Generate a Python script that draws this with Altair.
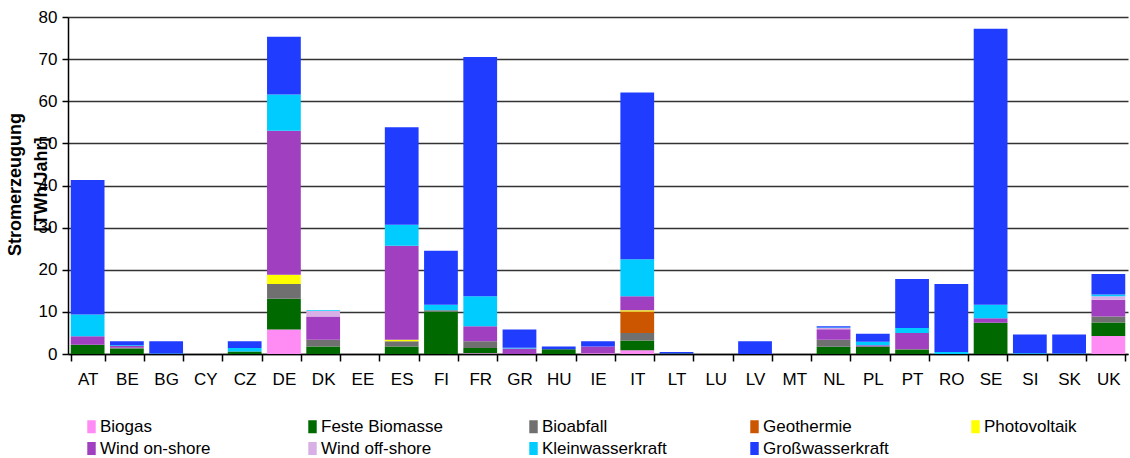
import altair as alt
import pandas as pd

countries = ["AT", "BE", "BG", "CY", "CZ", "DE", "DK", "EE", "ES", "FI", "FR", "GR", "HU", "IE",
             "IT", "LT", "LU", "LV", "MT", "NL", "PL", "PT", "RO", "SE", "SI", "SK", "UK"]

series = ["Biogas", "Feste Biomasse", "Bioabfall", "Geothermie", "Photovoltaik",
          "Wind on-shore", "Wind off-shore", "Kleinwasserkraft", "Großwasserkraft"]

#             AT   BE   BG   CY   CZ   DE    DK   EE   ES    FI    FR   GR   HU   IE   IT   LT   LU   LV   MT   NL   PL   PT   RO   SE   SI   SK   UK
biogas =     [0.0, 0.0, 0.0, 0.0, 0.0, 5.8,  0.0, 0.0, 0.0,  0.0,  0.2, 0.0, 0.0, 0.2, 0.9, 0.0, 0.0, 0.0, 0.0, 0.0, 0.0, 0.0, 0.0, 0.0, 0.0, 0.0, 4.3]
feste =      [2.2, 1.3, 0.0, 0.0, 0.6, 7.3,  1.8, 0.0, 1.8, 10.1,  1.2, 0.0, 1.1, 0.0, 2.3, 0.1, 0.0, 0.0, 0.0, 1.7, 1.8, 1.0, 0.0, 7.4, 0.0, 0.0, 3.2]
bioabfall =  [0.0, 0.2, 0.0, 0.0, 0.0, 3.5,  1.6, 0.0, 1.2,  0.3,  1.6, 0.0, 0.0, 0.0, 1.8, 0.0, 0.0, 0.0, 0.0, 1.7, 0.0, 0.2, 0.0, 0.0, 0.0, 0.0, 1.4]
geothermie = [0.0, 0.0, 0.0, 0.0, 0.0, 0.0,  0.0, 0.0, 0.0,  0.0,  0.0, 0.0, 0.0, 0.0, 5.1, 0.0, 0.0, 0.0, 0.0, 0.0, 0.0, 0.0, 0.0, 0.0, 0.0, 0.0, 0.0]
pv =         [0.0, 0.0, 0.0, 0.0, 0.0, 2.2,  0.0, 0.0, 0.4,  0.0,  0.0, 0.0, 0.0, 0.0, 0.3, 0.0, 0.0, 0.0, 0.0, 0.0, 0.0, 0.0, 0.0, 0.0, 0.0, 0.0, 0.0]
wind_on =    [2.0, 0.4, 0.0, 0.0, 0.0, 34.2, 5.5, 0.0, 22.3, 0.0,  3.6, 1.3, 0.0, 1.6, 3.3, 0.0, 0.0, 0.0, 0.0, 2.5, 0.3, 3.8, 0.0, 1.1, 0.0, 0.0, 4.0]
wind_off =   [0.0, 0.0, 0.0, 0.0, 0.0, 0.0,  1.3, 0.0, 0.0,  0.0,  0.0, 0.0, 0.0, 0.0, 0.0, 0.0, 0.0, 0.0, 0.0, 0.3, 0.0, 0.0, 0.0, 0.0, 0.0, 0.0, 0.8]
klein =      [5.2, 0.2, 0.1, 0.0, 0.8, 8.6,  0.2, 0.0, 5.0,  1.3,  7.1, 0.2, 0.0, 0.0, 8.8, 0.0, 0.0, 0.0, 0.0, 0.1, 0.8, 1.2, 0.5, 3.2, 0.2, 0.1, 0.4]
gross =      [31.9, 0.9, 2.9, 0.0, 1.6, 13.7, 0.0, 0.0, 23.1, 12.8, 56.8, 4.3, 0.7, 1.2, 39.6, 0.4, 0.0, 3.0, 0.0, 0.3, 1.9, 11.6, 16.1, 65.5, 4.4, 4.5, 4.9]

colors = ["#ff8cf5", "#006a00", "#707070", "#cc5500", "#ffff00",
          "#a040c0", "#d9b0e6", "#00ccff", "#1f3cff"]

values = [biogas, feste, bioabfall, geothermie, pv, wind_on, wind_off, klein, gross]

rows = []
for i, (name, vals) in enumerate(zip(series, values)):
    for land, v in zip(countries, vals):
        rows.append({"Land": land, "Quelle": name, "Wert": v, "idx": i})
df = pd.DataFrame(rows)

FONT = "Liberation Sans"

chart = alt.Chart(df).mark_bar().encode(
    x=alt.X("Land:N", sort=countries,
            scale=alt.Scale(domain=countries, paddingInner=0.14, paddingOuter=0.07),
            axis=alt.Axis(title=None, tickBand="extent", tickSize=7, tickColor="#000000",
                          tickWidth=1.5, domainColor="#000000", domainWidth=1.5,
                          labelFontSize=17, labelColor="#000000", labelPadding=10,
                          labelAngle=0, grid=False)),
    y=alt.Y("Wert:Q", stack="zero",
            scale=alt.Scale(domain=[0, 80], nice=False),
            axis=alt.Axis(values=list(range(0, 81, 10)),
                          title=["Stromerzeugung", "[TWh/Jahr]"],
                          titleFontSize=18, titleFontWeight="bold", titleColor="#000000",
                          titleAngle=270, titleAlign="center", titleBaseline="top",
                          titleX=-62, titleY=167, titleLineHeight=26,
                          labelFontSize=17, labelColor="#000000", labelPadding=5,
                          tickSize=6, tickColor="#000000", tickWidth=1.5,
                          domainColor="#000000", domainWidth=1.5,
                          grid=True, gridColor="#333333", gridWidth=1.6)),
    color=alt.Color("Quelle:N", sort=series,
                    scale=alt.Scale(domain=series, range=colors),
                    legend=alt.Legend(title=None, orient="none", legendX=15, legendY=401,
                                      columns=5, direction="horizontal", gridAlign="all",
                                      columnPadding=78, rowPadding=4, padding=0,
                                      symbolType="M-0.65,-1H0.65V1H-0.65Z", symbolSize=169,
                                      symbolStrokeWidth=0, labelFontSize=17,
                                      labelColor="#000000", labelOffset=0, labelLimit=300)),
    order=alt.Order("idx:Q", sort="ascending"),
).properties(
    width=1060, height=337,
    autosize=alt.AutoSizeParams(type="none"),
    padding={"left": 68, "top": 17, "right": 2, "bottom": 104},
).configure(
    font=FONT,
).configure_view(stroke=None)

chart.save("out.html", embed_options={"renderer": "svg", "actions": False})
